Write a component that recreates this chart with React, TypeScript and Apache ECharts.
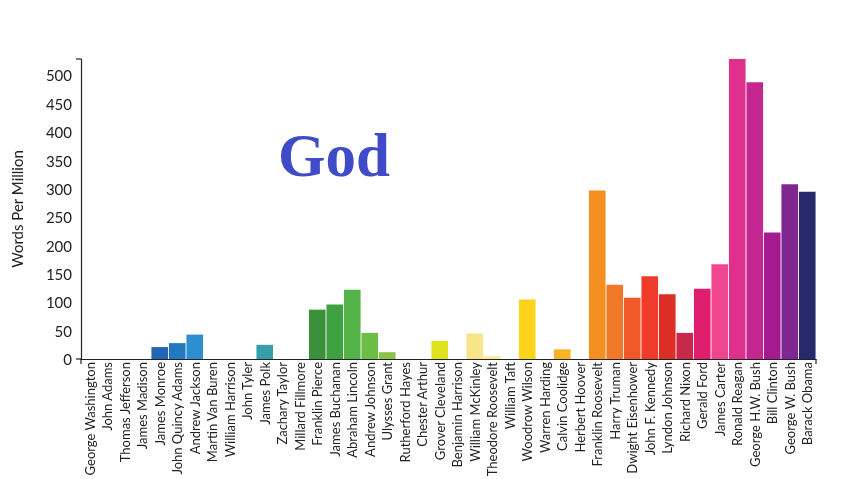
import React, { useEffect, useRef } from "react";
import * as echarts from "echarts";

const presidents = [
  "George Washington", "John Adams", "Thomas Jefferson", "James Madison", "James Monroe",
  "John Quincy Adams", "Andrew Jackson", "Martin Van Buren", "William Harrison", "John Tyler",
  "James Polk", "Zachary Taylor", "Millard Fillmore", "Franklin Pierce", "James Buchanan",
  "Abraham Lincoln", "Andrew Johnson", "Ulysses Grant", "Rutherford Hayes", "Chester Arthur",
  "Grover Cleveland", "Benjamin Harrison", "William McKinley", "Theodore Roosevelt", "William Taft",
  "Woodrow Wilson", "Warren Harding", "Calvin Coolidge", "Herbert Hoover", "Franklin Roosevelt",
  "Harry Truman", "Dwight Eisenhower", "John F. Kennedy", "Lyndon Johnson", "Richard Nixon",
  "Gerald Ford", "James Carter", "Ronald Reagan", "George H.W. Bush", "Bill Clinton",
  "George W. Bush", "Barack Obama",
];

const wordsPerMillion = [
  0, 0, 0, 0, 21,
  28, 43, 0, 0, 0,
  25, 0, 0, 87, 96,
  122, 46, 12, 0, 0,
  32, 0, 45, 5, 0,
  105, 0, 17, 0, 297,
  131, 108, 146, 114, 46,
  124, 167, 529, 488, 223,
  308, 295,
];

const barColors = [
  "#1b4f9c", "#1c56a2", "#1d5ca8", "#1f61ac", "#2066b0",
  "#2279c0", "#2e8fd0", "#2f96c8", "#3199bb", "#339cb0",
  "#35a0a8", "#36a08a", "#379a6a", "#3a913a", "#3fa240",
  "#53b346", "#6cbd45", "#8bc34a", "#a6cc3c", "#c2d72c",
  "#dde31c", "#f0e75a", "#f8e58a", "#fbe9a0", "#fbe37a",
  "#fcd41b", "#fac420", "#f8b325", "#f6a222", "#f39020",
  "#f07828", "#ef5a28", "#ee3b2a", "#dc2d27", "#c8284a",
  "#df1e6e", "#f04690", "#e0308d", "#c42890", "#a41a8f",
  "#7e2790", "#262a6b",
];

const yTicks = { min: 0, max: 529, interval: 50 };

const GRID = { left: 81, right: 32, top: 59, bottom: 120 };
const W = 848;
const H = 479;

export default function App() {
  const ref = useRef<HTMLDivElement>(null);

  useEffect(() => {
    if (!ref.current) return;
    const chart = echarts.init(ref.current, null, { renderer: "svg" });
    const x0 = GRID.left;
    const x1 = W - GRID.right;
    const y0 = H - GRID.bottom;
    const y1 = GRID.top;
    const tickStyle = { stroke: "#222", lineWidth: 1.2 };
    chart.setOption({
      animation: false,
      grid: {
        ...GRID,
        containLabel: false,
        outerBoundsMode: "none",
      },
      xAxis: {
        type: "category",
        data: presidents,
        boundaryGap: true,
        axisLine: { show: true, lineStyle: { color: "#222", width: 1.2 } },
        axisTick: { show: false },
        axisLabel: {
          rotate: 90,
          interval: 0,
          color: "#222",
          margin: 3,
          formatter: (v: string) => "{a|" + v + "}",
          rich: {
            a: { fontFamily: "Lato", fontSize: 13, color: "#222" },
          },
        },
      },
      yAxis: {
        type: "value",
        min: yTicks.min,
        max: yTicks.max,
        interval: yTicks.interval,
        name: "Words Per Million",
        nameLocation: "middle",
        nameGap: 57,
        nameTextStyle: { fontFamily: "Lato", fontSize: 15, color: "#222" },
        axisLine: { show: true, lineStyle: { color: "#222", width: 1.2 } },
        axisTick: { show: false },
        splitLine: { show: false },
        axisLabel: {
          fontFamily: "Lato",
          fontSize: 15,
          color: "#222",
          margin: 9,
          showMaxLabel: false,
          formatter: (v: number) => (v % 50 === 0 ? String(v) : ""),
        },
      },
      series: [
        {
          type: "bar",
          data: wordsPerMillion.map((v, i) => ({
            value: v,
            itemStyle: { color: barColors[i] },
          })),
          barCategoryGap: "5%",
        },
      ],
      graphic: [
        {
          type: "text",
          left: 278,
          top: 125,
          style: {
            text: "God",
            font: 'bold 61px "Liberation Serif"',
            fill: "#3f4bc9",
          },
        },
        { type: "line", shape: { x1: x0 - 5, y1: y1, x2: x0, y2: y1 }, style: tickStyle },
        { type: "line", shape: { x1: x0 - 5, y1: y0, x2: x0, y2: y0 }, style: tickStyle },
        { type: "line", shape: { x1: x0, y1: y0, x2: x0, y2: y0 + 5 }, style: tickStyle },
        { type: "line", shape: { x1: x1, y1: y0, x2: x1, y2: y0 + 5 }, style: tickStyle },
      ],
    });
    return () => chart.dispose();
  }, []);

  return (
    <div
      ref={ref}
      style={{ position: "fixed", left: 0, top: 0, width: W, height: H }}
    />
  );
}
